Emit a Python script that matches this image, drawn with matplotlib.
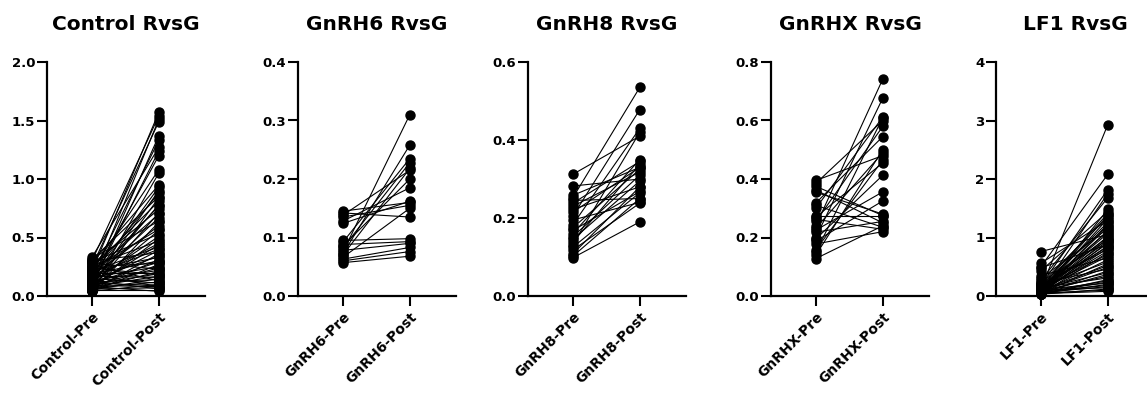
import matplotlib
matplotlib.use("Agg")
import matplotlib.pyplot as plt
from matplotlib.ticker import FormatStrFormatter

plt.rcParams['font.family'] = ['DejaVu Sans']
plt.rcParams['font.weight'] = 'bold'

# Data (paired pre / post values)
control_pre = [0.21, 0.30, 0.12, 0.25, 0.08, 0.18, 0.33, 0.10, 0.15, 0.22,
               0.06, 0.28, 0.14, 0.09, 0.19, 0.31, 0.05, 0.24, 0.11, 0.16,
               0.27, 0.07, 0.20, 0.13, 0.32, 0.04, 0.17, 0.23, 0.09, 0.29,
               0.12, 0.06, 0.26, 0.15, 0.08, 0.21, 0.18, 0.10, 0.30, 0.05,
               0.14, 0.22, 0.07, 0.19, 0.11, 0.25, 0.04, 0.16, 0.09, 0.28,
               0.13, 0.06, 0.20, 0.10, 0.24, 0.08, 0.17, 0.05, 0.12, 0.26,
               0.07, 0.15, 0.04, 0.11, 0.09, 0.19, 0.06, 0.13, 0.05, 0.08]
control_post = [1.57, 1.54, 1.51, 1.49, 1.37, 1.33, 1.27, 1.24, 1.20, 1.08,
                1.05, 0.95, 0.93, 0.90, 0.88, 0.85, 0.84, 0.81, 0.78, 0.77,
                0.74, 0.71, 0.70, 0.67, 0.64, 0.63, 0.60, 0.57, 0.56, 0.53,
                0.51, 0.49, 0.47, 0.45, 0.44, 0.42, 0.40, 0.39, 0.37, 0.36,
                0.34, 0.33, 0.31, 0.30, 0.29, 0.28, 0.27, 0.25, 0.24, 0.23,
                0.22, 0.21, 0.20, 0.19, 0.18, 0.17, 0.16, 0.15, 0.14, 0.13,
                0.12, 0.11, 0.10, 0.09, 0.08, 0.08, 0.07, 0.06, 0.05, 0.04]

gnrh6_pre = [0.145, 0.142, 0.138, 0.135, 0.128, 0.124, 0.095, 0.092, 0.088, 0.085,
             0.082, 0.078, 0.075, 0.072, 0.070, 0.066, 0.063, 0.060, 0.057]
gnrh6_post = [0.160, 0.135, 0.215, 0.155, 0.185, 0.162, 0.098, 0.235, 0.093, 0.200,
              0.228, 0.090, 0.310, 0.258, 0.218, 0.150, 0.083, 0.076, 0.068]

gnrh8_pre = [0.312, 0.282, 0.258, 0.252, 0.245, 0.238, 0.230, 0.222, 0.215, 0.205,
             0.195, 0.183, 0.175, 0.168, 0.160, 0.152, 0.145, 0.138, 0.132, 0.125,
             0.118, 0.108, 0.102, 0.098]
gnrh8_post = [0.410, 0.300, 0.330, 0.535, 0.250, 0.345, 0.318, 0.280, 0.330, 0.478,
              0.240, 0.430, 0.325, 0.268, 0.350, 0.310, 0.295, 0.338, 0.420, 0.265,
              0.238, 0.280, 0.250, 0.190]

gnrhx_pre = [0.395, 0.385, 0.375, 0.362, 0.355, 0.318, 0.310, 0.300, 0.275, 0.270,
             0.262, 0.255, 0.240, 0.232, 0.225, 0.218, 0.200, 0.195, 0.188, 0.178,
             0.158, 0.150, 0.140, 0.128]
gnrhx_post = [0.480, 0.600, 0.275, 0.250, 0.280, 0.545, 0.235, 0.612, 0.275, 0.455,
              0.228, 0.580, 0.742, 0.490, 0.356, 0.255, 0.677, 0.413, 0.325, 0.220,
              0.465, 0.610, 0.500, 0.240]

lf1_pre = [0.12, 0.50, 0.18, 0.08, 0.27, 0.05, 0.43, 0.15, 0.10, 0.21,
           0.07, 0.56, 0.13, 0.04, 0.19, 0.09, 0.30, 0.06, 0.14, 0.11,
           0.76, 0.08, 0.17, 0.05, 0.24, 0.12, 0.03, 0.10, 0.48, 0.07,
           0.15, 0.06, 0.20, 0.09, 0.04, 0.13, 0.11, 0.35, 0.07, 0.16,
           0.05, 0.10, 0.08, 0.22, 0.04, 0.12, 0.06, 0.09, 0.14, 0.03,
           0.07, 0.05, 0.11, 0.04, 0.08, 0.06, 0.10, 0.03, 0.05, 0.04]
lf1_post = [2.93, 2.08, 1.82, 1.75, 1.68, 1.48, 1.44, 1.41, 1.38, 1.35,
            1.32, 1.29, 1.26, 1.23, 1.20, 1.18, 1.15, 1.12, 1.10, 1.07,
            1.05, 1.02, 1.00, 0.98, 0.96, 0.94, 0.92, 0.90, 0.88, 0.86,
            0.84, 0.82, 0.80, 0.77, 0.74, 0.71, 0.68, 0.65, 0.62, 0.58,
            0.55, 0.52, 0.49, 0.46, 0.43, 0.40, 0.37, 0.34, 0.31, 0.28,
            0.26, 0.24, 0.22, 0.20, 0.18, 0.16, 0.14, 0.12, 0.10, 0.08]

titles = ["Control RvsG", "GnRH6 RvsG", "GnRH8 RvsG", "GnRHX RvsG", "LF1 RvsG"]
groups = ["Control", "GnRH6", "GnRH8", "GnRHX", "LF1"]
pre_sets = [control_pre, gnrh6_pre, gnrh8_pre, gnrhx_pre, lf1_pre]
post_sets = [control_post, gnrh6_post, gnrh8_post, gnrhx_post, lf1_post]
y_max = [2.0, 0.4, 0.6, 0.8, 4]
y_step = [0.5, 0.1, 0.2, 0.2, 1]
y_fmt = ["%.1f", "%.1f", "%.1f", "%.1f", "%d"]

W, H = 1147, 394
fig = plt.figure(figsize=(W / 100, H / 100), dpi=100)

spine_x = [47, 298, 528, 771, 996]
ax_w = 158
ax_bottom = 1 - 296 / H
ax_h = (296 - 62) / H

for i in range(5):
    ax = fig.add_axes([spine_x[i] / W, ax_bottom, ax_w / W, ax_h])
    for a, b in zip(pre_sets[i], post_sets[i]):
        ax.plot([0, 1], [a, b], color='black', lw=0.8, zorder=2)
    ax.plot([0] * len(pre_sets[i]), pre_sets[i], 'o', color='black', ms=6.5,
            zorder=3, clip_on=False)
    ax.plot([1] * len(post_sets[i]), post_sets[i], 'o', color='black', ms=6.5,
            zorder=3, clip_on=False)

    ax.set_xlim(-0.67, 1.69)
    ax.set_ylim(0, y_max[i])
    n = int(round(y_max[i] / y_step[i]))
    ax.set_yticks([k * y_step[i] for k in range(n + 1)])
    ax.yaxis.set_major_formatter(FormatStrFormatter(y_fmt[i]))
    ax.set_xticks([0, 1])
    ax.set_xticklabels([groups[i] + "-Pre", groups[i] + "-Post"],
                       rotation=45, ha='right', rotation_mode='anchor',
                       fontsize=10, fontweight='bold')
    for lab in ax.get_yticklabels():
        lab.set_fontsize(9.5)
        lab.set_fontweight('bold')

    for s in ['top', 'right']:
        ax.spines[s].set_visible(False)
    for s in ['left', 'bottom']:
        ax.spines[s].set_linewidth(1.6)
    ax.tick_params(direction='out', length=7, width=1.5)
    ax.tick_params(axis='y', pad=1.5)
    ax.tick_params(axis='x', pad=3)
    ax.set_title(titles[i], fontsize=14.5, fontweight='bold', pad=23)

fig.savefig("out.png", dpi=100)
